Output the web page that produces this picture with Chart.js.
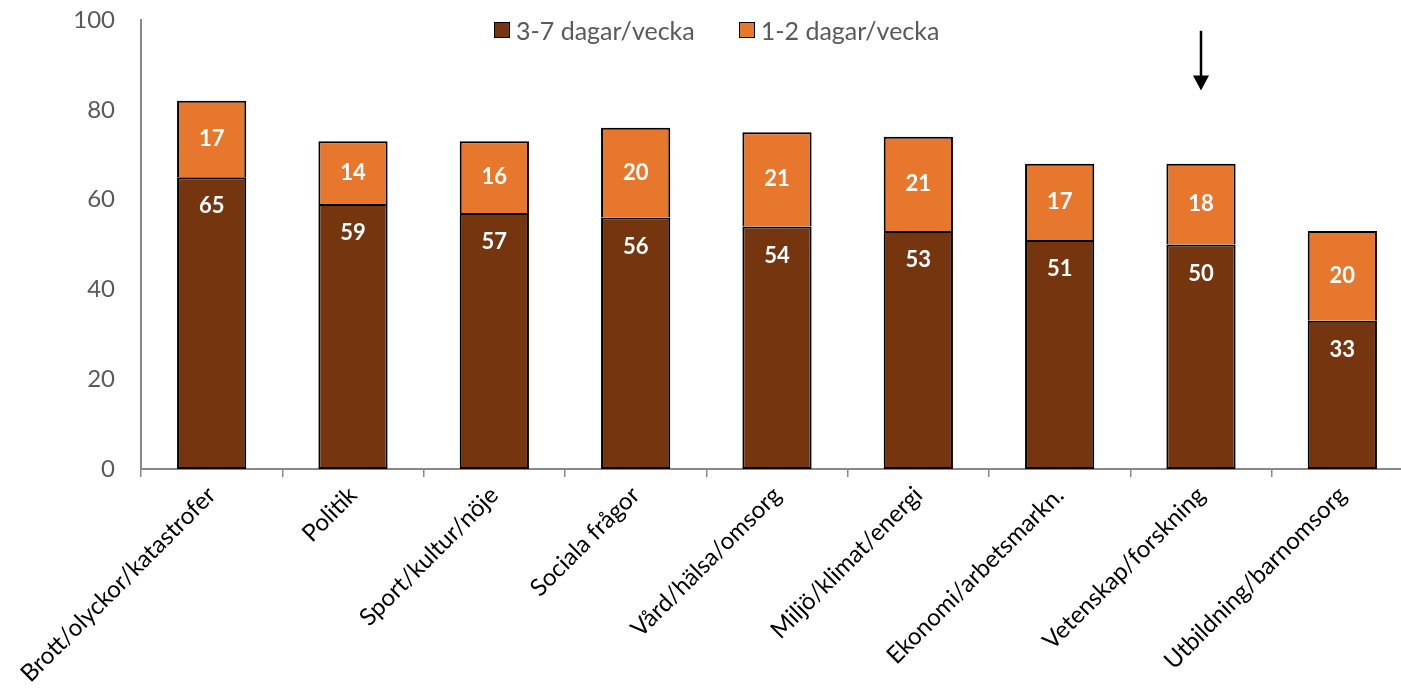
<!DOCTYPE html>
<html><head><meta charset="utf-8">
<script src="https://cdn.jsdelivr.net/npm/chart.js@4.4.1/dist/chart.umd.min.js"></script>
<style>
html,body{margin:0;padding:0;overflow:hidden;background:#fff;width:1401px;height:698px;}
#wrap{position:relative;width:1416px;height:698px;}
#legend{position:absolute;top:15px;left:494px;font-family:Lato,"Open Sans",sans-serif;font-size:25px;color:#595959;display:flex;align-items:center;white-space:nowrap;}
#legend .sw{display:inline-block;width:14px;height:14px;border:1.5px solid #000;margin-right:6px;}
#legend .item{display:flex;align-items:center;margin-right:44px;}
</style></head>
<body><div id="wrap"><canvas id="c" width="1416" height="698"></canvas>
<div id="legend"></div></div>
<script>
const categories = ["Brott/olyckor/katastrofer","Politik","Sport/kultur/nöje","Sociala frågor","Vård/hälsa/omsorg","Miljö/klimat/energi","Ekonomi/arbetsmarkn.","Vetenskap/forskning","Utbildning/barnomsorg"];
const seriesNames = ["3-7 dagar/vecka","1-2 dagar/vecka"];
const days37 = [65,59,57,56,54,53,51,50,33];
const days12 = [17,14,16,20,21,21,17,18,20];
const seriesColors = ["#74350F","#E8772E"];
const yTicks = [0,20,40,60,80,100];
const arrowCategory = "Vetenskap/forskning";

const FONT = 'Lato, "Open Sans", sans-serif';

const leg = document.getElementById('legend');
seriesNames.forEach((n,i)=>{
  const d = document.createElement('div'); d.className='item';
  const s = document.createElement('span'); s.className='sw'; s.style.background=seriesColors[i];
  const t = document.createElement('span'); t.textContent=n;
  d.appendChild(s); d.appendChild(t); leg.appendChild(d);
});

const labelPlugin = {
  id:'labels',
  afterDatasetsDraw(chart){
    const ctx = chart.ctx;
    ctx.save();
    ctx.fillStyle='#fff';
    ctx.font = 'bold 22px ' + FONT;
    ctx.textAlign='center'; ctx.textBaseline='middle';
    chart.data.datasets.forEach((ds,di)=>{
      const meta = chart.getDatasetMeta(di);
      meta.data.forEach((el,i)=>{
        const p = el.getProps(['x','y','base'],true);
        const y = di===0 ? p.y + 29 : (p.y + p.base)/2;
        ctx.fillText(String(ds.data[i]), p.x, y);
      });
    });
    // arrow
    const xs = chart.scales.x, ys = chart.scales.y;
    const ax = xs.getPixelForValue(categories.indexOf(arrowCategory));
    const yTop = ys.getPixelForValue(97.6), yTip = ys.getPixelForValue(84.3);
    ctx.strokeStyle='#000'; ctx.fillStyle='#000'; ctx.lineWidth=2.5;
    ctx.beginPath(); ctx.moveTo(ax,yTop); ctx.lineTo(ax,yTip-12); ctx.stroke();
    ctx.beginPath(); ctx.moveTo(ax-8,yTip-15); ctx.lineTo(ax+8,yTip-15); ctx.lineTo(ax,yTip); ctx.closePath(); ctx.fill();
    ctx.restore();
  }
};

new Chart(document.getElementById('c'), {
  type:'bar',
  data:{
    labels:categories,
    datasets:[
      {label:seriesNames[0], data:days37, backgroundColor:seriesColors[0], borderColor:'#000', borderWidth:2, borderSkipped:false, inflateAmount:0, categoryPercentage:1, barPercentage:0.49},
      {label:seriesNames[1], data:days12, backgroundColor:seriesColors[1], borderColor:'#000', borderWidth:2, borderSkipped:'start', inflateAmount:0, categoryPercentage:1, barPercentage:0.49}
    ]
  },
  options:{
    responsive:false, animation:false,
    layout:{padding:{top:20,right:3,left:0,bottom:0}},
    plugins:{legend:{display:false}, tooltip:{enabled:false}},
    scales:{
      x:{stacked:true, offset:true,
        grid:{display:true, drawOnChartArea:false, drawTicks:true, tickLength:8, color:'#888', lineWidth:1.5, offset:true},
        border:{display:true,color:'#888',width:2},
        ticks:{color:'#000', font:{family:FONT,size:24}, maxRotation:45, minRotation:45, autoSkip:false, padding:4},
        afterFit(s){ s.height = 229; s.paddingLeft = 0; s.paddingRight = 0; s.paddingTop = 0; }
      },
      y:{stacked:true, min:0, max:100,
        grid:{display:false, drawTicks:false},
        border:{display:true,color:'#888',width:2},
        afterBuildTicks(s){ s.ticks = yTicks.map(v=>({value:v})); },
        ticks:{color:'#595959', font:{family:FONT,size:24}, padding:26},
        afterFit(s){ s.width = 141; s.paddingTop = 0; s.paddingBottom = 0; }
      }
    }
  },
  plugins:[labelPlugin]
});
</script>
</body></html>
